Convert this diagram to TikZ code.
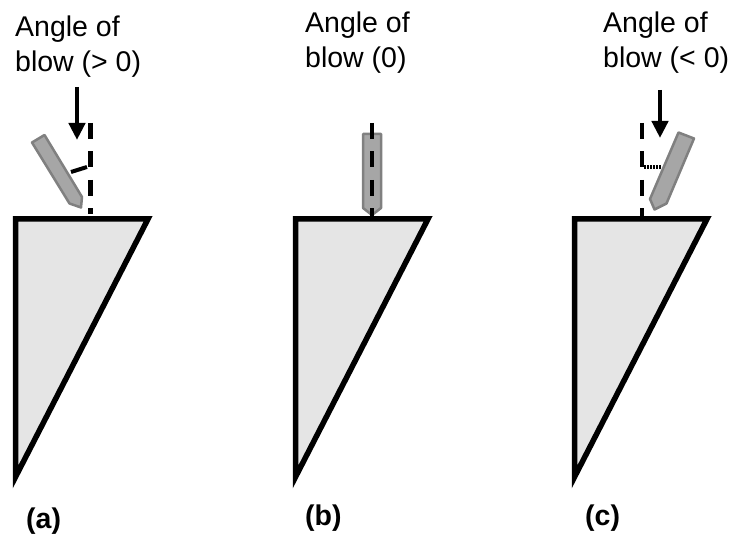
\documentclass[tikz,border=0pt]{standalone}
\usepackage{fontspec}
\setmainfont{Liberation Sans}
\usetikzlibrary{arrows.meta}
\definecolor{WedgeGray}{RGB}{229,229,229}
\definecolor{PenFill}{RGB}{166,166,166}
\definecolor{PenLine}{RGB}{128,128,128}
\tikzset{
  wedge/.style={draw=black,fill=WedgeGray,line width=5.5pt,miter limit=10},
  pen/.style={draw=PenLine,fill=PenFill,line width=2.5pt,line join=round},
  axis/.style={draw=black,line width=4.5pt,dash pattern=on 16pt off 12.5pt},
  blow/.style={draw=black,line width=4.5pt,-{Triangle[length=17pt,width=16pt]}},
  gap/.style={draw=black,line width=4pt},
  lab/.style={anchor=base west,inner sep=0pt,font=\fontsize{28.5}{34}\selectfont},
  tag/.style={anchor=base west,inner sep=0pt,font=\fontsize{28.5}{34}\selectfont\bfseries},
}
\begin{document}
\begin{tikzpicture}[x=1pt,y=-1pt]
\useasboundingbox (0,0) rectangle (733,534);
% panel a
\draw[wedge] (15.5,219) -- (148,219) -- (15.5,477) -- cycle;
\coordinate (a0) at (90.7,123);
\coordinate (a1) at (90.7,214);
\coordinate (a2) at (77,87);
\coordinate (a3) at (77,140);
\coordinate (a4) at (71,172);
\coordinate (a5) at (87,167);
\draw[pen] (32,142.5) -- (44.5,135) -- (82,197) -- (81,207.5) -- (69.5,203.5) -- cycle;
\draw[axis] (a0)--(a1);
\draw[blow] (a2)--(a3);
\draw[gap] (a4)--(a5);
\node[lab] (a6) at (15,37) {Angle of};
\node[lab] (a7) at (15,72) {blow (> 0)};
\node[tag] (a8) at (26,528) {(a)};
% panel b
\draw[wedge] (295.5,219) -- (428,219) -- (295.5,477) -- cycle;
\coordinate (b0) at (372,123);
\coordinate (b1) at (372,216);
\draw[pen] (363,134) -- (381,134) -- (381,208) -- (372,215) -- (363,208) -- cycle;
\draw[axis] (b0)--(b1);
\node[lab] (b2) at (305,33) {Angle of};
\node[lab] (b3) at (305,68) {blow (0)};
\node[tag] (b4) at (305,525) {(b)};
% panel c
\draw[wedge] (574.5,219) -- (707,219) -- (574.5,477) -- cycle;
\coordinate (c0) at (642,123);
\coordinate (c1) at (642,216);
\coordinate (c2) at (660,90);
\coordinate (c3) at (660,138);
\coordinate (c4) at (644,167);
\coordinate (c5) at (661,167);
\draw[pen] (678.5,132.5) -- (694,138.5) -- (666.5,203.5) -- (654.5,209.5) -- (650,199) -- cycle;
\draw[axis] (c0)--(c1);
\draw[blow] (c2)--(c3);
\draw[gap,dash pattern=on 2pt off 1pt] (c4)--(c5);
\node[lab] (c6) at (603,33) {Angle of};
\node[lab] (c7) at (603,68) {blow (< 0)};
\node[tag] (c8) at (585,525) {(c)};
\end{tikzpicture}
\end{document}
